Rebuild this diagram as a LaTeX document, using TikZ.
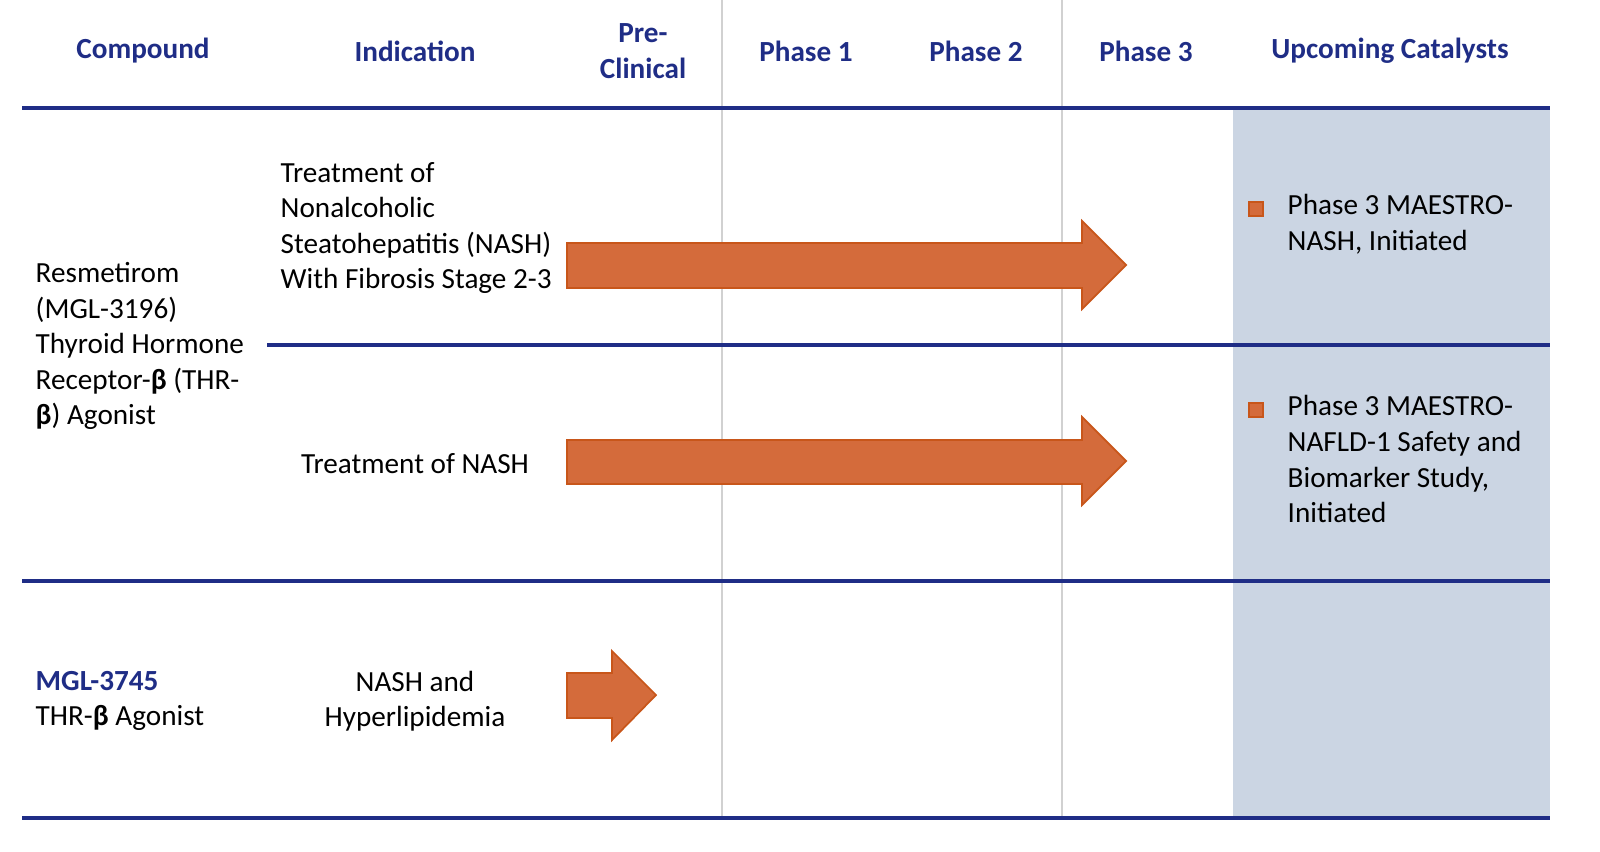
\documentclass[tikz,border=0pt]{standalone}
\usepackage{fontspec}
\setmainfont{Carlito}
\usepackage{tikz}

\definecolor{navy}{HTML}{1F2D86}
\definecolor{catshade}{HTML}{CBD5E3}
\definecolor{arrowfill}{HTML}{D46B3B}
\definecolor{arrowedge}{HTML}{C8561A}

\begin{document}
\begin{tikzpicture}[
        x=0.01cm, y=-0.01cm,
        font=\fontsize{8.3}{10.1}\selectfont,
        head/.style={font=\fontsize{8.3}{10.1}\selectfont\bfseries, text=navy, align=center},
        cell/.style={align=left, anchor=west, inner sep=0pt},
        rule/.style={navy, line width=0.9pt},
        grid/.style={black!18, line width=0.4pt},
        pipe/.style={fill=arrowfill, draw=arrowedge, line width=0.5pt},
        bullet/.style={fill=arrowfill, draw=arrowedge, line width=0.3pt}
    ]
        \useasboundingbox (0,0) rectangle (1600,852);
        \fill[catshade] (1233,108) rectangle (1550,818);

        % column separators
        \draw[grid] (722,0) -- (722,818);
        \draw[grid] (1062,0) -- (1062,818);

        % headers
        \node[head] (hcomp) at (143,51) {Compound};
        \node[head] (hind) at (415,51) {Indication};
        \node[head] (hpre) at (643,51) {Pre-\\Clinical};
        \node[head] (hp1) at (806,51) {Phase 1};
        \node[head] (hp2) at (976,51) {Phase 2};
        \node[head] (hp3) at (1146,51) {Phase 3};
        \node[head] (hcat) at (1390,51) {Upcoming Catalysts};

        % row rules
        \draw[rule] (22,108) -- (1550,108);
        \draw[rule] (267,345) -- (1550,345);
        \draw[rule] (22,581) -- (1550,581);
        \draw[rule] (22,818) -- (1550,818);

        % compounds
        \node[cell] (resm) at (35,346) {Resmetirom\\(MGL-3196)\\Thyroid Hormone\\Receptor-\textbf{β} (THR-\\\textbf{β}) Agonist};
        \node[cell] (mgl) at (35,701) {\textbf{\color{navy}MGL-3745}\\THR-\textbf{β} Agonist};

        % indications
        \node[cell] (ind1) at (280,228) {Treatment of\\Nonalcoholic\\Steatohepatitis (NASH)\\With Fibrosis Stage 2-3};
        \node[align=center] (ind2) at (415,464) {Treatment of NASH};
        \node[align=center] (ind3) at (415,701) {NASH and\\Hyperlipidemia};

        % pipeline arrows
        \draw[pipe] (567,243) -- (1082,243) -- (1082,221) -- (1126,265) -- (1082,309) -- (1082,288) -- (567,288) -- cycle;
        \draw[pipe] (567,440) -- (1082,440) -- (1082,417) -- (1126,461) -- (1082,505) -- (1082,484) -- (567,484) -- cycle;
        \draw[pipe] (567,673) -- (612,673) -- (612,651) -- (656,695) -- (612,740) -- (612,718) -- (567,718) -- cycle;

        % catalysts
        \draw[bullet] (1249,202) rectangle (1263,216);
        \node[cell, anchor=north west] (cat1) at (1287,194) {Phase 3 MAESTRO-\\NASH, Initiated};
        \draw[bullet] (1249,403) rectangle (1263,417);
        \node[cell, anchor=north west] (cat2) at (1287,395) {Phase 3 MAESTRO-\\NAFLD-1 Safety and\\Biomarker Study,\\Initiated};
    \end{tikzpicture}
\end{document}
